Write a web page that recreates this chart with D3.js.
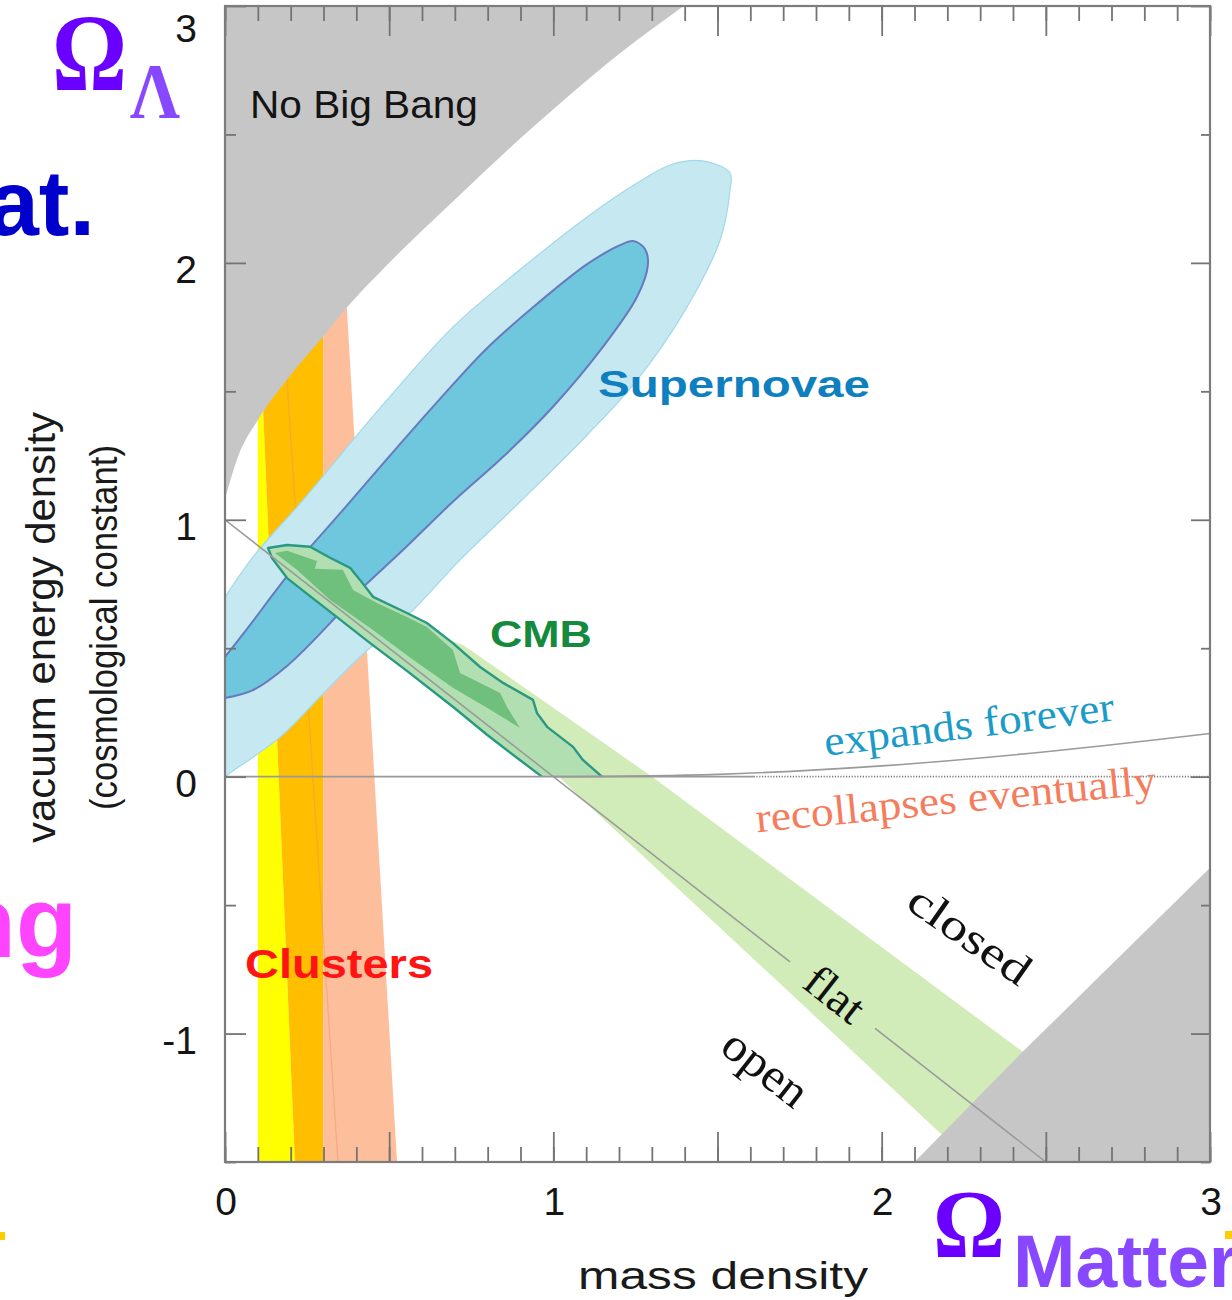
<!DOCTYPE html>
<html>
<head>
<meta charset="utf-8">
<script src="https://cdn.jsdelivr.net/npm/d3@7"></script>
<style>
  body { margin: 0; background: #fff; }
  svg { display: block; }
</style>
</head>
<body>
<svg id="chart" width="1232" height="1300"></svg>
<script>
// ---------- data: points are [Omega_M, Omega_Lambda] ----------
const xTickValues = [0, 1, 2, 3];
const xTickLabels = ["0", "1", "2", "3"];
const yTickValues = [-1, 0, 1, 2, 3];
const yTickLabels = ["-1", "0", "1", "2", "3"];

// edge of the "No Big Bang" region (upper left)
const noBigBangEdge = [[0, 1.08], [0.005, 1.103], [0.036, 1.233], [0.101, 1.39], [0.188, 1.544],
  [0.299, 1.713], [0.371, 1.826], [0.492, 1.99], [0.695, 2.24], [0.878, 2.46],
  [1.0, 2.598], [1.2, 2.813], [1.397, 3.0]];
// excluded region, lower right
const lowerRightEdge = [[2.10, -1.5], [2.43, -1.07], [3.0, -0.355]];

// cluster bands
const clustersYellow = [[0.1, 1.8], [0.1, -1.5], [0.213, -1.5], [0.104, 1.8]];
const clustersOrange = [[0.104, 1.8], [0.213, -1.5], [0.299, -1.5], [0.299, 1.8]];
const clustersPeach = [[0.299, 2.0], [0.299, -1.5], [0.524, -1.5], [0.363, 2.0]];
const clustersCentre = [[0.183, 1.661], [0.344, -1.5]];

// supernova confidence contours
const snOuter = [[0.000, 0.000], [0.015, 0.014], [0.168, 0.154], [0.289, 0.310], [0.411, 0.466],
  [0.573, 0.649], [0.716, 0.844], [0.898, 1.069], [1.103, 1.330], [1.255, 1.544], [1.407, 1.828],
  [1.508, 2.089], [1.538, 2.283], [1.538, 2.350], [1.456, 2.397], [1.364, 2.385], [1.255, 2.311],
  [1.103, 2.179], [0.898, 1.973], [0.694, 1.750], [0.493, 1.466], [0.390, 1.311], [0.238, 1.077],
  [0.085, 0.855], [0.000, 0.699]];
const snInner = [[0.000, 0.306], [0.085, 0.337], [0.189, 0.431], [0.329, 0.610], [0.390, 0.699],
  [0.542, 0.882], [0.694, 1.070], [0.847, 1.245], [0.999, 1.440], [1.151, 1.673], [1.255, 1.868],
  [1.288, 1.992], [1.279, 2.054], [1.243, 2.085], [1.203, 2.069], [1.103, 1.995], [0.950, 1.840],
  [0.798, 1.668], [0.646, 1.458], [0.493, 1.236], [0.341, 1.011], [0.244, 0.870], [0.152, 0.719],
  [0.076, 0.590], [0.000, 0.466]];

// CMB: broad band plus the two contours
const cmbBand = [[0.131, 0.874], [0.615, 0.563], [0.725, 0.513], [1.301, 0.0], [1.904, -0.573],
  [2.427, -1.068], [2.896, -1.5], [2.272, -1.5], [2.181, -1.391], [1.904, -1.060],
  [1.090, -0.091], [1.017, 0.0]];
const cmbOuter = [[0.965, 0.000], [0.898, 0.065], [0.798, 0.163], [0.694, 0.272], [0.554, 0.412],
  [0.442, 0.520], [0.341, 0.621], [0.259, 0.703], [0.189, 0.773], [0.143, 0.851], [0.131, 0.890],
  [0.189, 0.902], [0.259, 0.895], [0.320, 0.852], [0.381, 0.813], [0.411, 0.766], [0.451, 0.700],
  [0.554, 0.637], [0.615, 0.598], [0.694, 0.520], [0.777, 0.427], [0.847, 0.365], [0.938, 0.299],
  [0.950, 0.248], [0.981, 0.194], [1.060, 0.116], [1.090, 0.065], [1.148, 0.000]];
const cmbInner = [[0.189, 0.879], [0.280, 0.840], [0.274, 0.809], [0.359, 0.805], [0.390, 0.727],
  [0.463, 0.676], [0.554, 0.622], [0.615, 0.583], [0.694, 0.493], [0.716, 0.404], [0.838, 0.326],
  [0.859, 0.271], [0.898, 0.190], [0.798, 0.268], [0.694, 0.346], [0.573, 0.455], [0.442, 0.579],
  [0.320, 0.688], [0.219, 0.805], [0.152, 0.871]];

// reference lines
const flatLineA = [[0, 1], [1.721, -0.721]];
const flatLineB = [[1.98, -0.98], [2.5, -1.5]];
const expansionEdge = [[1, 0], [1.5, 0.009], [2, 0.042], [2.5, 0.097], [3, 0.168]];
const zeroSolid = [[0, 0], [1.61, 0]];
const zeroDotted = [[1.61, 0], [3, 0]];

// ---------- drawing ----------
const svg = d3.select("#chart");
const x = d3.scaleLinear().domain([0, 3]).range([225, 1210]);
const y = d3.scaleLinear().domain([-1.5, 3]).range([1162, 6]);

const lin = d3.line().x(d => x(d[0])).y(d => y(d[1]));
const smooth = d3.line().curve(d3.curveCatmullRom.alpha(0.5)).x(d => x(d[0])).y(d => y(d[1]));
const mono = d3.line().curve(d3.curveMonotoneX).x(d => x(d[0])).y(d => y(d[1]));
const closed = pts => lin(pts) + "Z";

svg.append("defs").append("clipPath").attr("id", "plotClip")
  .append("rect").attr("x", x(0)).attr("y", y(3)).attr("width", x(3) - x(0)).attr("height", y(-1.5) - y(3));

const plot = svg.append("g").attr("clip-path", "url(#plotClip)");

// clusters
plot.append("path").attr("d", closed(clustersYellow)).attr("fill", "#ffff00");
plot.append("path").attr("d", closed(clustersOrange)).attr("fill", "#ffbe00");
plot.append("path").attr("d", closed(clustersPeach)).attr("fill", "#fdbf9b");
plot.append("path").attr("d", lin(clustersCentre)).attr("fill", "none")
  .attr("stroke", "#e8906a").attr("stroke-opacity", 0.45).attr("stroke-width", 1.2);

// supernovae
plot.append("path").attr("d", smooth(snOuter) + "Z").attr("fill", "#c5e8f1")
  .attr("stroke", "#a3d8ea").attr("stroke-width", 1.2);
plot.append("path").attr("d", smooth(snInner) + "Z").attr("fill", "#6ec7dd")
  .attr("stroke", "#6879bf").attr("stroke-width", 2);

// CMB
plot.append("path").attr("d", closed(cmbBand)).attr("fill", "#d1ecb9");
plot.append("path").attr("d", closed(cmbOuter)).attr("fill", "#b2dfb1");
plot.append("path").attr("d", closed(cmbInner)).attr("fill", "#6fc07c");
plot.append("path").attr("d", lin(cmbOuter)).attr("fill", "none")
  .attr("stroke", "#2a9882").attr("stroke-width", 2.4).attr("stroke-linejoin", "round");

// excluded regions: the upper-left edge is a smooth curve
const edgePath = mono(noBigBangEdge);
plot.append("path").attr("d", edgePath + `L${x(0)},${y(3)}Z`).attr("fill", "#c6c6c6");
plot.append("path").attr("d", closed([...lowerRightEdge, [3, -1.5]])).attr("fill", "#c6c6c6");

// reference lines
plot.append("path").attr("d", lin(zeroSolid)).attr("fill", "none").attr("stroke", "#9a9a9a").attr("stroke-width", 1.6);
plot.append("path").attr("d", lin(zeroDotted)).attr("fill", "none").attr("stroke", "#7a7a7a")
  .attr("stroke-width", 1.8).attr("stroke-dasharray", "1.2,1.6");
plot.append("path").attr("d", smooth(expansionEdge)).attr("fill", "none").attr("stroke", "#9a9a9a").attr("stroke-width", 1.6);
[flatLineA, flatLineB].forEach(seg => plot.append("path").attr("d", lin(seg)).attr("fill", "none")
  .attr("stroke", "#999").attr("stroke-width", 1.5));

// frame and ticks
const tickColour = "#747474";
function tickAxis(axis, tx, ty) {
  const g = svg.append("g").attr("transform", `translate(${tx},${ty})`).call(axis);
  g.select(".domain").remove();
  g.selectAll("line").attr("stroke", tickColour).attr("stroke-width", 1.8);
  g.selectAll("text").remove();
}
const xMinor = x.ticks(30), xMajor = x.ticks(6), yHalf = y.ticks(9);
const yWhole = yHalf.filter(v => Number.isInteger(v));
const yHalfOnly = yHalf.filter(v => !Number.isInteger(v));

tickAxis(d3.axisBottom(x).tickValues(xMinor).tickSize(-15), 0, y(-1.5));
tickAxis(d3.axisBottom(x).tickValues(xMajor).tickSize(-30), 0, y(-1.5));
tickAxis(d3.axisTop(x).tickValues(xMinor).tickSize(-15), 0, y(3));
tickAxis(d3.axisTop(x).tickValues(xMajor).tickSize(-30), 0, y(3));
tickAxis(d3.axisLeft(y).tickValues(yWhole).tickSize(-21), x(0), 0);
tickAxis(d3.axisLeft(y).tickValues(yHalfOnly).tickSize(-11), x(0), 0);
tickAxis(d3.axisRight(y).tickValues(yWhole).tickSize(-19), x(3), 0);
tickAxis(d3.axisRight(y).tickValues(yHalfOnly).tickSize(-9), x(3), 0);

svg.append("rect").attr("x", x(0)).attr("y", y(3)).attr("width", x(3) - x(0)).attr("height", y(-1.5) - y(3))
  .attr("fill", "none").attr("stroke", "#7c7c7c").attr("stroke-width", 2.2);

// tick labels
const sans = "'Liberation Sans', Arial, Helvetica, sans-serif";
const serif = "'Liberation Serif', 'Times New Roman', serif";
svg.append("g").selectAll("text").data(xTickValues).join("text")
  .attr("x", d => x(d) + 1).attr("y", 1215)
  .attr("text-anchor", "middle").attr("font-family", sans).attr("font-size", 39).attr("fill", "#151515")
  .text((d, i) => xTickLabels[i]);
svg.append("g").selectAll("text").data(yTickValues).join("text")
  .attr("x", 197).attr("y", d => Math.max(y(d) + 20, 42))
  .attr("text-anchor", "end").attr("font-family", sans).attr("font-size", 39).attr("fill", "#151515")
  .text((d, i) => yTickLabels[i]);

// axis titles
svg.append("text").attr("transform", "translate(55,627.5) rotate(-90)")
  .attr("text-anchor", "middle").attr("font-family", sans).attr("font-size", 41).attr("fill", "#1a1a1a")
  .attr("textLength", 431).attr("lengthAdjust", "spacingAndGlyphs").text("vacuum energy density");
svg.append("text").attr("transform", "translate(117,627.5) rotate(-90)")
  .attr("text-anchor", "middle").attr("font-family", sans).attr("font-size", 39).attr("fill", "#1a1a1a")
  .attr("textLength", 365).attr("lengthAdjust", "spacingAndGlyphs").text("(cosmological constant)");
svg.append("text").attr("x", 723).attr("y", 1289)
  .attr("text-anchor", "middle").attr("font-family", sans).attr("font-size", 38).attr("fill", "#1a1a1a")
  .attr("textLength", 290).attr("lengthAdjust", "spacingAndGlyphs").text("mass density");

// region labels
function label(txt, mx, ly, opts) {
  const t = svg.append("text").attr("x", x(mx)).attr("y", y(ly))
    .attr("font-family", opts.family).attr("font-size", opts.size).attr("fill", opts.fill)
    .attr("font-weight", opts.weight || "normal").text(txt);
  if (opts.len) t.attr("textLength", opts.len).attr("lengthAdjust", "spacingAndGlyphs");
  return t;
}
label("No Big Bang", 0.076, 2.564, { family: sans, size: 39, fill: "#141414", len: 228 });
label("Supernovae", 1.136, 1.477, { family: sans, size: 37, fill: "#0e7fbf", weight: "bold", len: 272 });
label("CMB", 0.807, 0.506, { family: sans, size: 37, fill: "#158a3c", weight: "bold", len: 102 });
label("Clusters", 0.061, -0.784, { family: sans, size: 41, fill: "#ff1414", weight: "bold", len: 188 });

function rotated(txt, mx, ly, angle, opts) {
  svg.append("text")
    .attr("transform", `translate(${x(mx)},${y(ly)}) rotate(${angle})`)
    .attr("text-anchor", opts.anchor || "start").attr("dy", opts.dy || 0)
    .attr("font-family", serif).attr("font-size", opts.size).attr("fill", opts.fill)
    .attr("textLength", opts.len).attr("lengthAdjust", "spacingAndGlyphs").text(txt);
}
rotated("expands forever", 1.830, 0.081, -7, { size: 42, fill: "#1a9bc8", len: 292 });
rotated("recollapses eventually", 1.620, -0.216, -5.5, { size: 42, fill: "#f57c5c", len: 402 });
rotated("closed", 2.269, -0.616, 35, { size: 44, fill: "#111", len: 140, anchor: "middle", dy: "0.34em" });
rotated("flat", 1.858, -0.846, 38, { size: 45, fill: "#111", len: 64, anchor: "middle", dy: "0.34em" });
rotated("open", 1.628, -1.165, 38, { size: 47, fill: "#111", len: 96, anchor: "middle", dy: "0.12em" });

// Omega symbols and side captions
svg.append("text").attr("x", 52).attr("y", 90).attr("font-family", serif).attr("font-weight", "bold")
  .attr("font-size", 110).attr("fill", "#6a00ff").attr("textLength", 75).attr("lengthAdjust", "spacingAndGlyphs").text("Ω");
svg.append("text").attr("x", 130).attr("y", 117).attr("font-family", serif).attr("font-weight", "bold")
  .attr("font-size", 78).attr("fill", "#8848ff").attr("textLength", 50).attr("lengthAdjust", "spacingAndGlyphs").text("Λ");
svg.append("text").attr("x", 933).attr("y", 1257).attr("font-family", serif).attr("font-weight", "bold")
  .attr("font-size", 97).attr("fill", "#6a00ff").attr("textLength", 72).attr("lengthAdjust", "spacingAndGlyphs").text("Ω");
svg.append("text").attr("x", 1013).attr("y", 1287).attr("font-family", sans).attr("font-weight", "bold")
  .attr("font-size", 75).attr("fill", "#8848ff").text("Matter");
svg.append("text").attr("x", 95).attr("y", 235).attr("text-anchor", "end").attr("font-family", sans)
  .attr("font-weight", "bold").attr("font-size", 92).attr("fill", "#0000cc").text("at.");
svg.append("text").attr("x", 77).attr("y", 957).attr("text-anchor", "end").attr("font-family", sans)
  .attr("font-weight", "bold").attr("font-size", 100).attr("fill", "#ff44ff").text("ng");
svg.append("rect").attr("x", 0).attr("y", 1232).attr("width", 5).attr("height", 8).attr("fill", "#ffcc00");
svg.append("rect").attr("x", 1225).attr("y", 1231).attr("width", 7).attr("height", 8).attr("fill", "#ffcc00");
</script>
</body>
</html>
